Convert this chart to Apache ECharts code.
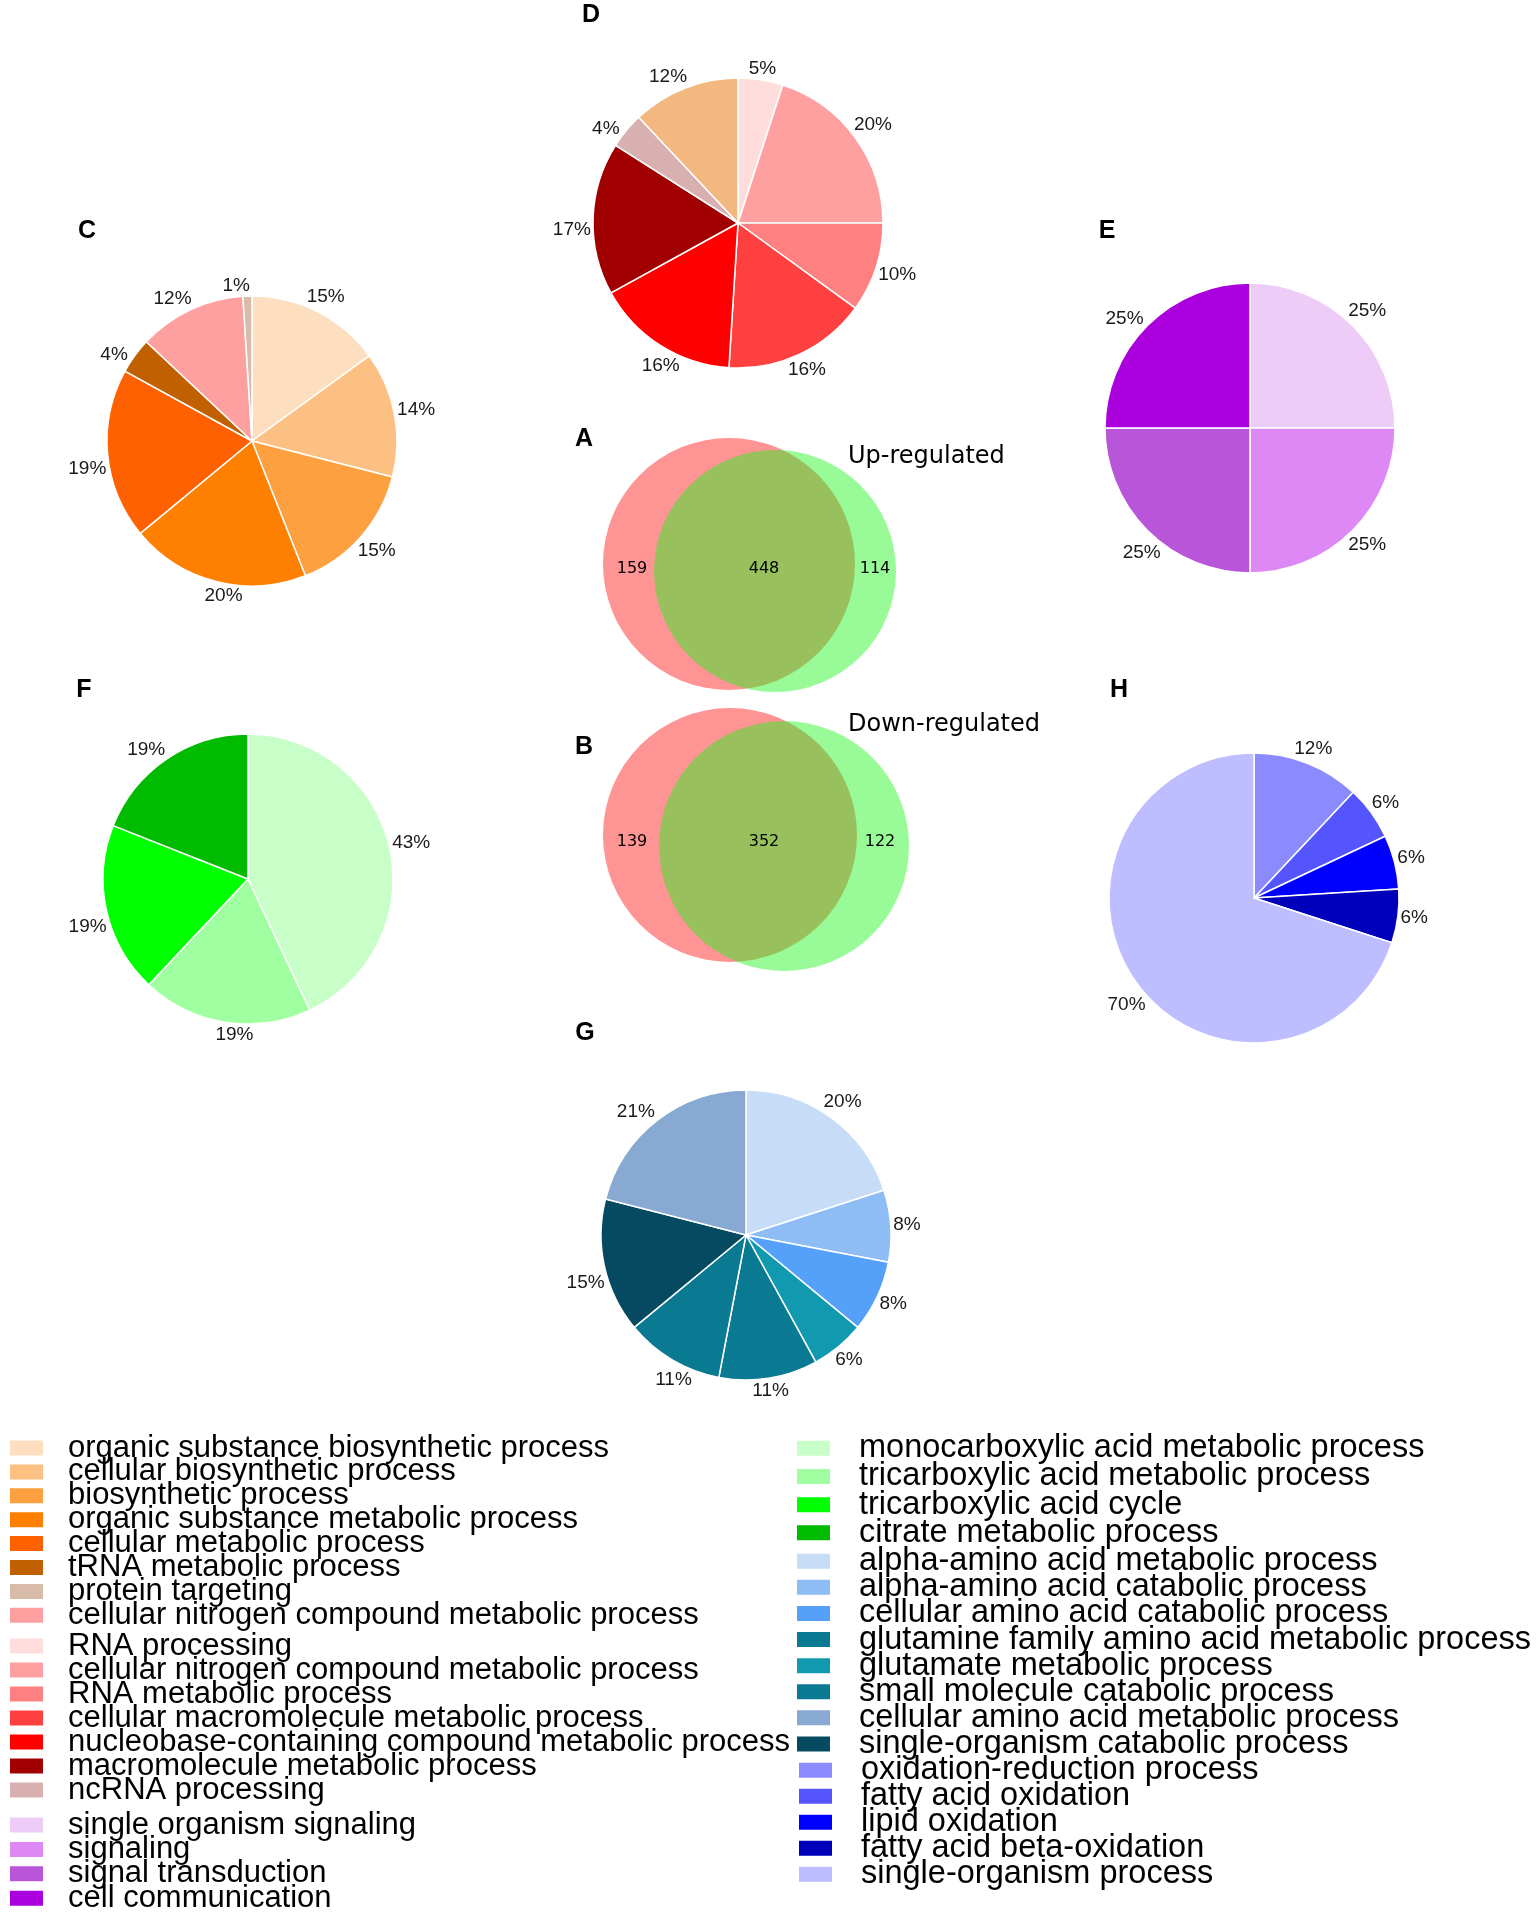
<!DOCTYPE html>
<html><head><meta charset="utf-8">
<script src="https://cdn.jsdelivr.net/npm/echarts@6/dist/echarts.min.js"></script>
<style>html,body{margin:0;padding:0;background:#fff}#main{width:1537px;height:1916px}</style>
</head><body><div id="main"></div>
<script>
// ---------------- DATA ----------------
const cNames = ["organic substance biosynthetic process","cellular biosynthetic process","biosynthetic process","organic substance metabolic process","cellular metabolic process","tRNA metabolic process","cellular nitrogen compound metabolic process","protein targeting"];
const cValues = [15,14,15,20,19,4,12,1];

const dNames = ["RNA processing","cellular nitrogen compound metabolic process","RNA metabolic process","cellular macromolecule metabolic process","nucleobase-containing compound metabolic process","macromolecule metabolic process","ncRNA processing","cellular biosynthetic process"];
const dValues = [5,20,10,16,16,17,4,12];

const eNames = ["single organism signaling","signaling","signal transduction","cell communication"];
const eValues = [25,25,25,25];

const fNames = ["monocarboxylic acid metabolic process","tricarboxylic acid metabolic process","tricarboxylic acid cycle","citrate metabolic process"];
const fValues = [43,19,19,19];

const gNames = ["alpha-amino acid metabolic process","alpha-amino acid catabolic process","cellular amino acid catabolic process","glutamate metabolic process","glutamine family amino acid metabolic process","small molecule catabolic process","single-organism catabolic process","cellular amino acid metabolic process"];
const gValues = [20,8,8,6,11,11,15,21];

const hNames = ["oxidation-reduction process","fatty acid oxidation","lipid oxidation","fatty acid beta-oxidation","single-organism process"];
const hValues = [12,6,6,6,70];

const vennUpValues = [159,448,114];
const vennDownValues = [139,352,122];
const vennTitles = ["Up-regulated","Down-regulated"];

const legendC = ["organic substance biosynthetic process","cellular biosynthetic process","biosynthetic process","organic substance metabolic process","cellular metabolic process","tRNA metabolic process","protein targeting","cellular nitrogen compound metabolic process"];
const legendD = ["RNA processing","cellular nitrogen compound metabolic process","RNA metabolic process","cellular macromolecule metabolic process","nucleobase-containing compound metabolic process","macromolecule metabolic process","ncRNA processing"];
const legendE = eNames;
const legendF = fNames;
const legendG = ["alpha-amino acid metabolic process","alpha-amino acid catabolic process","cellular amino acid catabolic process","glutamine family amino acid metabolic process","glutamate metabolic process","small molecule catabolic process","cellular amino acid metabolic process","single-organism catabolic process"];
const legendH = hNames;

// ---------------- STYLES ----------------
const cColors = ["#FDDFC0","#FDC083","#FDA040","#FF8000","#FF6000","#C06000","#FFA0A0","#D8BBA8"];
const dColors = ["#FFDDDD","#FFA0A0","#FF8080","#FF4040","#FF0000","#A00000","#D8B0B0","#F2B880"];
const eColors = ["#EECCF8","#DD88F5","#B855D8","#AA00DD"];
const fColors = ["#C8FFC8","#A0FFA0","#00FF00","#00BB00"];
const gColors = ["#C6DCF7","#8EBDF5","#55A0F8","#1199B0","#0A7A92","#0A7A92","#054A60","#88A9D1"];
const hColors = ["#8B8BFF","#5555FF","#0000FF","#0000BB","#BDBDFF"];

const FONT = "'Liberation Sans', Arial, Helvetica, sans-serif";
const VFONT = "'DejaVu Sans', Verdana, sans-serif";
const R = 145;

// ---------------- LAYOUT ----------------
const pieLayout = {
  C: [252, 441], D: [738, 223], E: [1250, 428],
  F: [248, 879], H: [1254, 898], G: [746, 1235]
};

// moves each label (initially inside the slice, on its mid-angle) to just outside the rim
function outsideLabel(cx, cy) {
  return function (p) {
    const r = p.labelRect;
    const lx = r.x + r.width / 2, ly = r.y + r.height / 2;
    let theta = Math.atan2(lx - cx, -(ly - cy));
    if (lx - cx < -1) theta -= 4 * Math.PI / 180;
    const dx = Math.sin(theta), dy = -Math.cos(theta);
    const dist = R + 2 + (r.width / 2) * Math.abs(dx) + 7.5 * Math.abs(dy);
    return { x: cx + dx * dist, y: cy + dy * dist, align: 'center', verticalAlign: 'middle' };
  };
}

function pieSeries(key, names, values, colors) {
  const c = pieLayout[key];
  return {
    type: 'pie', name: key, center: c, radius: R, startAngle: 90, clockwise: true,
    avoidLabelOverlap: false, silent: true, animation: false,
    data: names.map((n, i) => ({ name: n, value: values[i], itemStyle: { color: colors[i] } })),
    itemStyle: { borderColor: '#ffffff', borderWidth: 1.5 },
    label: { show: true, position: 'inside', formatter: '{c}%', fontSize: 19, fontFamily: FONT, color: '#1a1a1a' },
    labelLine: { show: false },
    labelLayout: outsideLabel(c[0], c[1]),
    emphasis: { disabled: true }
  };
}

const vennLayout = [
  { red: [729, 564, 126], green: [775, 571, 121], text: [[632, 569], [764, 569], [875, 569]] },
  { red: [730, 835, 127], green: [784, 846, 125], text: [[632, 842], [764, 842], [880, 842]] }
];

function vennSeries(values, lay) {
  return {
    type: 'custom', coordinateSystem: 'none', silent: true, animation: false,
    data: values.map(v => [v]),
    renderItem: function (params, api) {
      const i = params.dataIndex;
      const children = [];
      if (i === 0) children.push({ type: 'circle', shape: { cx: lay.red[0], cy: lay.red[1], r: lay.red[2] }, style: { fill: 'rgb(255,148,148)' }, z2: 1 });
      if (i === 2) children.push({ type: 'circle', shape: { cx: lay.green[0], cy: lay.green[1], r: lay.green[2] }, style: { fill: 'rgba(27,246,27,0.45)' }, z2: 2 });
      children.push({ type: 'text', z2: 10, style: { text: String(api.value(0)), x: lay.text[i][0], y: lay.text[i][1], align: 'center', verticalAlign: 'middle', fontSize: 16, fontFamily: VFONT, fill: '#000' } });
      return { type: 'group', children: children };
    }
  };
}

// centerY = y of first icon centre, step = row spacing
function mkLegend(data, left, centerY, step, fs, padL) {
  return {
    data: data, orient: 'vertical', left: left, top: centerY - fs / 2, height: 600, padding: 0,
    itemWidth: 35, itemHeight: 17, itemGap: step - fs, icon: 'rect', selectedMode: false,
    textStyle: { fontSize: fs, fontFamily: FONT, color: '#000', lineHeight: fs, padding: [0, 0, 0, padL] }
  };
}

const letters = [
  ['D', 591, 15], ['C', 87, 231], ['E', 1107, 231], ['A', 584, 439],
  ['F', 84, 690], ['H', 1119, 690], ['B', 584, 747], ['G', 585, 1033]
];

const graphics = letters.map(l => ({
  type: 'text', x: l[1], y: l[2], silent: true,
  style: { text: l[0], align: 'center', verticalAlign: 'middle', fontSize: 25, fontWeight: 'bold', fontFamily: FONT, fill: '#000' }
}));
graphics.push({ type: 'text', x: 848, y: 457, silent: true, style: { text: vennTitles[0], align: 'left', verticalAlign: 'middle', fontSize: 24, fontFamily: VFONT, fill: '#000' } });
graphics.push({ type: 'text', x: 848, y: 725, silent: true, style: { text: vennTitles[1], align: 'left', verticalAlign: 'middle', fontSize: 24, fontFamily: VFONT, fill: '#000' } });

const chart = echarts.init(document.getElementById('main'), null, { renderer: 'canvas' });
chart.setOption({
  backgroundColor: '#ffffff',
  animation: false,
  legend: [
    mkLegend(legendC, 8, 1448, 23.9, 31, 19),
    mkLegend(legendD, 8, 1646, 24, 31, 19),
    mkLegend(legendE, 8, 1825, 24.4, 31, 19),
    mkLegend(legendF, 795, 1448, 27.7, 32.5, 23),
    mkLegend(legendG, 795, 1561, 25.6, 32.5, 23),
    mkLegend(legendH, 797, 1770, 25.5, 32.5, 23)
  ],
  graphic: graphics,
  series: [
    pieSeries('C', cNames, cValues, cColors),
    pieSeries('D', dNames, dValues, dColors),
    pieSeries('E', eNames, eValues, eColors),
    pieSeries('F', fNames, fValues, fColors),
    pieSeries('G', gNames, gValues, gColors),
    pieSeries('H', hNames, hValues, hColors),
    vennSeries(vennUpValues, vennLayout[0]),
    vennSeries(vennDownValues, vennLayout[1])
  ]
});
</script></body></html>
